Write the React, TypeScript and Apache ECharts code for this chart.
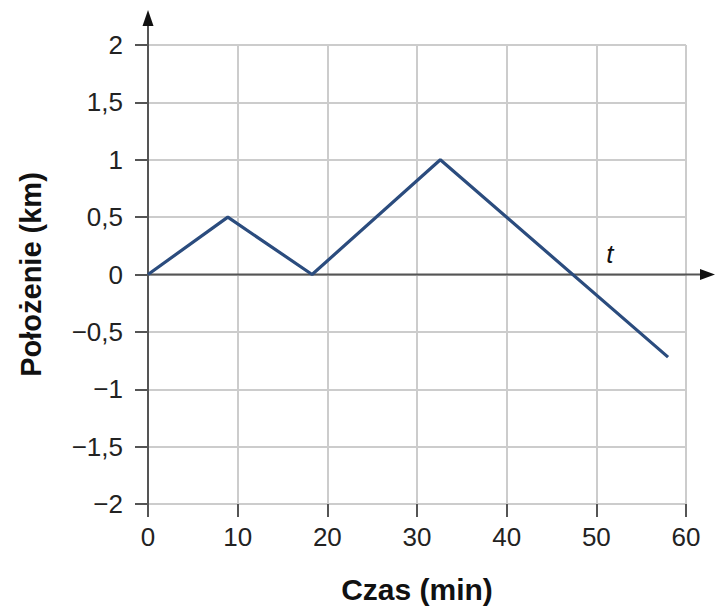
import React, { useEffect, useRef } from "react";
import * as echarts from "echarts";

const timeMin = [0, 8.9, 18.3, 32.6, 58];
const positionKm = [0, 0.5, 0, 1, -0.72];
const xTicks = [0, 10, 20, 30, 40, 50, 60];
const yTicks = [-2, -1.5, -1, -0.5, 0, 0.5, 1, 1.5, 2];

const FONT = "'Liberation Sans', Arial, Helvetica, sans-serif";
const AXIS_COLOR = "#555555";
const GRID_COLOR = "#cccccc";
const LINE_COLOR = "#2b4c7e";

const fmtY = (v: number) => String(v).replace(".", ",").replace("-", "\u2212");

export default function App() {
  const ref = useRef<HTMLDivElement>(null);
  useEffect(() => {
    if (!ref.current) return;
    const chart = echarts.init(ref.current, null, { renderer: "svg" });
    chart.setOption({
      animation: false,
      backgroundColor: "#ffffff",
      grid: { left: 148, top: 45, right: 30, bottom: 102, containLabel: false },
      xAxis: {
        type: "value",
        min: xTicks[0],
        max: xTicks[xTicks.length - 1],
        interval: 10,
        name: "Czas (min)",
        nameLocation: "middle",
        nameGap: 70,
        nameTextStyle: { fontFamily: FONT, fontSize: 30, fontWeight: "bold", color: "#111" },
        axisLine: { show: false, onZero: false },
        axisTick: { show: true, length: 13, lineStyle: { color: AXIS_COLOR, width: 2 } },
        axisLabel: { fontFamily: FONT, fontSize: 26, color: "#222", margin: 20 },
        splitLine: { show: true, lineStyle: { color: GRID_COLOR, width: 2 } },
      },
      yAxis: {
        type: "value",
        min: yTicks[0],
        max: yTicks[yTicks.length - 1],
        interval: 0.5,
        name: "Położenie (km)",
        nameLocation: "middle",
        nameGap: 103,
        nameTextStyle: { fontFamily: FONT, fontSize: 29, fontWeight: "bold", color: "#111" },
        axisLine: { show: true, onZero: false, lineStyle: { color: AXIS_COLOR, width: 2 } },
        axisTick: { show: true, length: 13, lineStyle: { color: AXIS_COLOR, width: 2 } },
        axisLabel: { fontFamily: FONT, fontSize: 26, color: "#222", margin: 25, formatter: fmtY },
        splitLine: { show: true, lineStyle: { color: GRID_COLOR, width: 2 } },
      },
      series: [
        {
          type: "line",
          data: timeMin.map((t, i) => [t, positionKm[i]]),
          symbol: "none",
          lineStyle: { color: LINE_COLOR, width: 3.2 },
          z: 5,
        },
      ],
    });
    const origin = chart.convertToPixel({ gridIndex: 0 }, [0, 0]) as number[];
    const yTop = chart.convertToPixel({ gridIndex: 0 }, [0, 2]) as number[];
    const tPos = chart.convertToPixel({ gridIndex: 0 }, [51.5, 0]) as number[];
    const W = chart.getWidth();
    const xTip = W - 1;
    const yTip = yTop[1] - 35;
    chart.setOption({
      graphic: [
        {
          type: "line",
          z: 1,
          shape: { x1: origin[0], y1: origin[1], x2: xTip - 10, y2: origin[1] },
          style: { stroke: AXIS_COLOR, lineWidth: 2 },
        },
        {
          type: "polygon",
          z: 1,
          shape: { points: [[xTip, origin[1]], [xTip - 15, origin[1] - 5.5], [xTip - 15, origin[1] + 5.5]] },
          style: { fill: "#111" },
        },
        {
          type: "line",
          z: 1,
          shape: { x1: yTop[0], y1: yTop[1], x2: yTop[0], y2: yTip + 10 },
          style: { stroke: AXIS_COLOR, lineWidth: 2 },
        },
        {
          type: "polygon",
          z: 1,
          shape: { points: [[yTop[0], yTip], [yTop[0] - 5.5, yTip + 16], [yTop[0] + 5.5, yTip + 16]] },
          style: { fill: "#111" },
        },
        {
          type: "text",
          z: 3,
          x: tPos[0],
          y: tPos[1] - 8,
          style: {
            text: "t",
            font: `italic 26px ${FONT}`,
            fill: "#111",
            textAlign: "center",
            textVerticalAlign: "bottom",
          },
        },
      ],
    });
    return () => chart.dispose();
  }, []);
  return (
    <div
      ref={ref}
      style={{ position: "fixed", left: 0, top: 0, width: 716, height: 609, overflow: "hidden" }}
    />
  );
}
